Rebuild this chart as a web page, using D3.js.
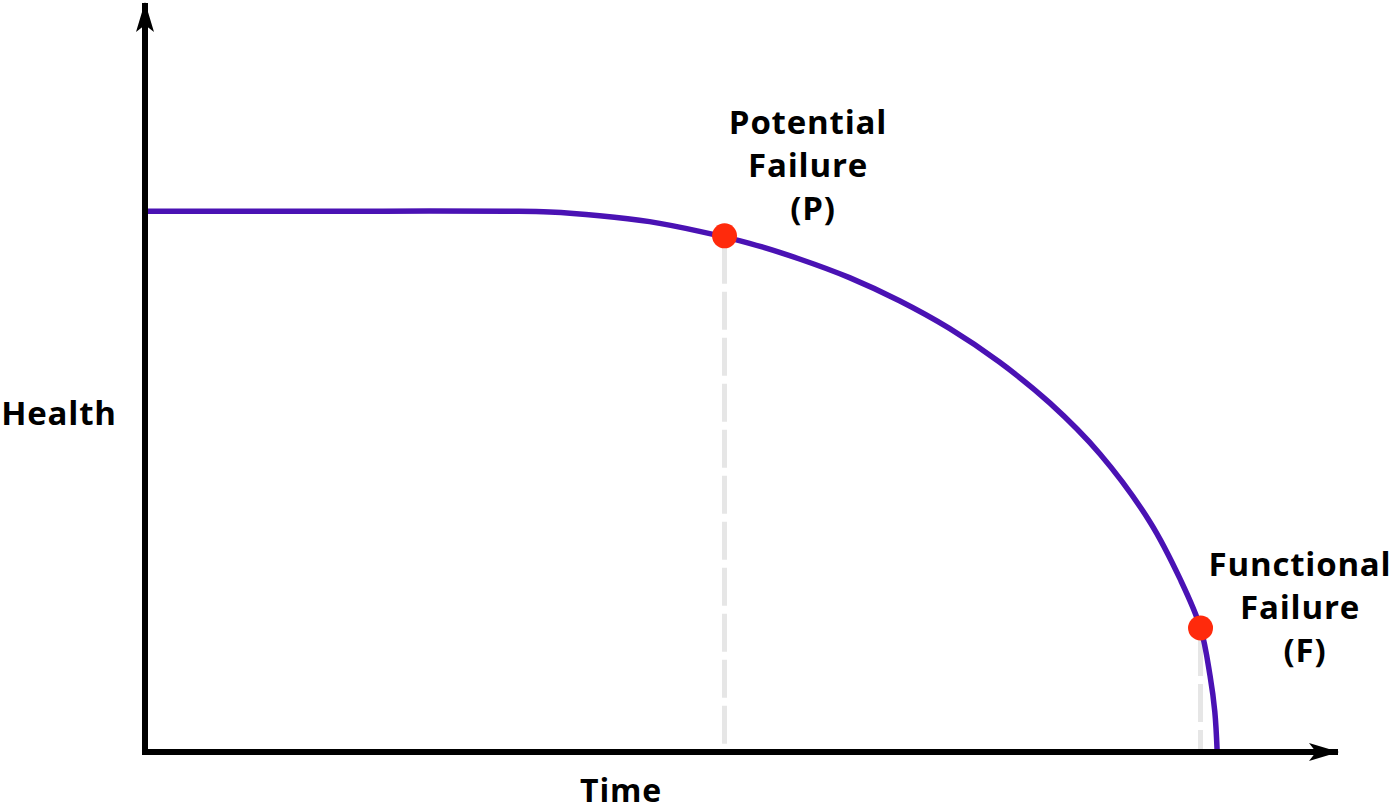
<!DOCTYPE html>
<html>
<head>
<meta charset="utf-8">
<script src="https://cdn.jsdelivr.net/npm/d3@7"></script>
<style>
  html, body { margin: 0; padding: 0; background: #fff; }
  svg { display: block; }
  text { font-family: "Open Sans", "Noto Sans", sans-serif; font-weight: 700; fill: #000; letter-spacing: 0.8px; }
</style>
</head>
<body>
<svg id="chart" width="1400" height="811"></svg>
<script>
// Health curve (time units 0-100, health units 0-100)
const curveTime   = [0, 10, 20, 30.6, 34.0, 38.2, 42.4, 46.6, 50.8, 55.0, 59.2, 63.4, 67.6, 71.8, 76.05, 80.25, 84.45, 87.0, 88.7, 89.5, 89.9, 90.1];
const curveHealth = [72.4, 72.4, 72.4, 72.4, 72.3, 71.8, 71.0, 69.7, 68.1, 66.0, 63.5, 60.4, 56.7, 52.2, 46.7, 39.9, 30.8, 23.1, 16.6, 10.2, 5.4, 0];

// Marked failure points
const markerNames  = ["Potential Failure (P)", "Functional Failure (F)"];
const markerTime   = [48.7, 88.7];
const markerHealth = [69.1, 16.6];
const markerLabels = [["Potential", "Failure", "(P)"], ["Functional", "Failure", "(F)"]];

const axisLabels = { x: "Time", y: "Health" };

const svg = d3.select("#chart");
const x = d3.scaleLinear().domain([0, 100]).range([145, 1335]);
const y = d3.scaleLinear().domain([0, 100]).range([752, 5]);

// arrow marker
const defs = svg.append("defs");
defs.append("marker")
  .attr("id", "arrow")
  .attr("viewBox", "0 0 30 20")
  .attr("refX", 29).attr("refY", 10)
  .attr("markerWidth", 30).attr("markerHeight", 20)
  .attr("markerUnits", "userSpaceOnUse")
  .attr("orient", "auto")
  .append("path")
  .attr("d", "M0,1 L30,10 L0,19 L7,10 Z")
  .attr("fill", "#000");

// dashed drop lines
svg.selectAll(".drop").data(markerTime).join("line")
  .attr("class", "drop")
  .attr("x1", d => x(d)).attr("x2", d => x(d))
  .attr("y1", (d, i) => y(markerHealth[i]))
  .attr("y2", y(0))
  .attr("stroke", "#e6e6e6")
  .attr("stroke-width", 5)
  .attr("stroke-dasharray", "38 8")
  .attr("stroke-dashoffset", -10);

// curve
const pts = curveTime.map((t, i) => [t, curveHealth[i]]);
svg.append("path")
  .datum(pts)
  .attr("fill", "none")
  .attr("stroke", "#4a12b4")
  .attr("stroke-width", 5.5)
  .attr("d", d3.line().x(d => x(d[0])).y(d => y(d[1])).curve(d3.curveCatmullRom.alpha(0.5)));

// axes
svg.append("line")
  .attr("x1", x(0)).attr("y1", y(0) + 3)
  .attr("x2", x(0)).attr("y2", 3)
  .attr("stroke", "#000").attr("stroke-width", 6)
  .attr("marker-end", "url(#arrow)");
svg.append("line")
  .attr("x1", x(0) - 3).attr("y1", y(0))
  .attr("x2", 1338).attr("y2", y(0))
  .attr("stroke", "#000").attr("stroke-width", 6)
  .attr("marker-end", "url(#arrow)");

// markers
svg.selectAll(".pt").data(markerTime).join("circle")
  .attr("class", "pt")
  .attr("cx", d => x(d))
  .attr("cy", (d, i) => y(markerHealth[i]))
  .attr("r", 12.5)
  .attr("fill", "#ff2a0c");

// marker labels
const labelPos = [[808, 134], [1300, 576]];
markerLabels.forEach((lines, i) => {
  const t = svg.append("text")
    .attr("text-anchor", "middle")
    .attr("font-size", 33);
  lines.forEach((s, j) => {
    t.append("tspan")
      .attr("x", labelPos[i][0] + (j === 2 ? 5 : 0))
      .attr("y", labelPos[i][1] + j * 43)
      .text(s);
  });
});

// axis titles
svg.append("text").attr("x", 59).attr("y", 425).attr("text-anchor", "middle")
  .attr("font-size", 33).text(axisLabels.y);
svg.append("text").attr("x", 621).attr("y", 802).attr("text-anchor", "middle")
  .attr("font-size", 32).text(axisLabels.x);
</script>
</body>
</html>
